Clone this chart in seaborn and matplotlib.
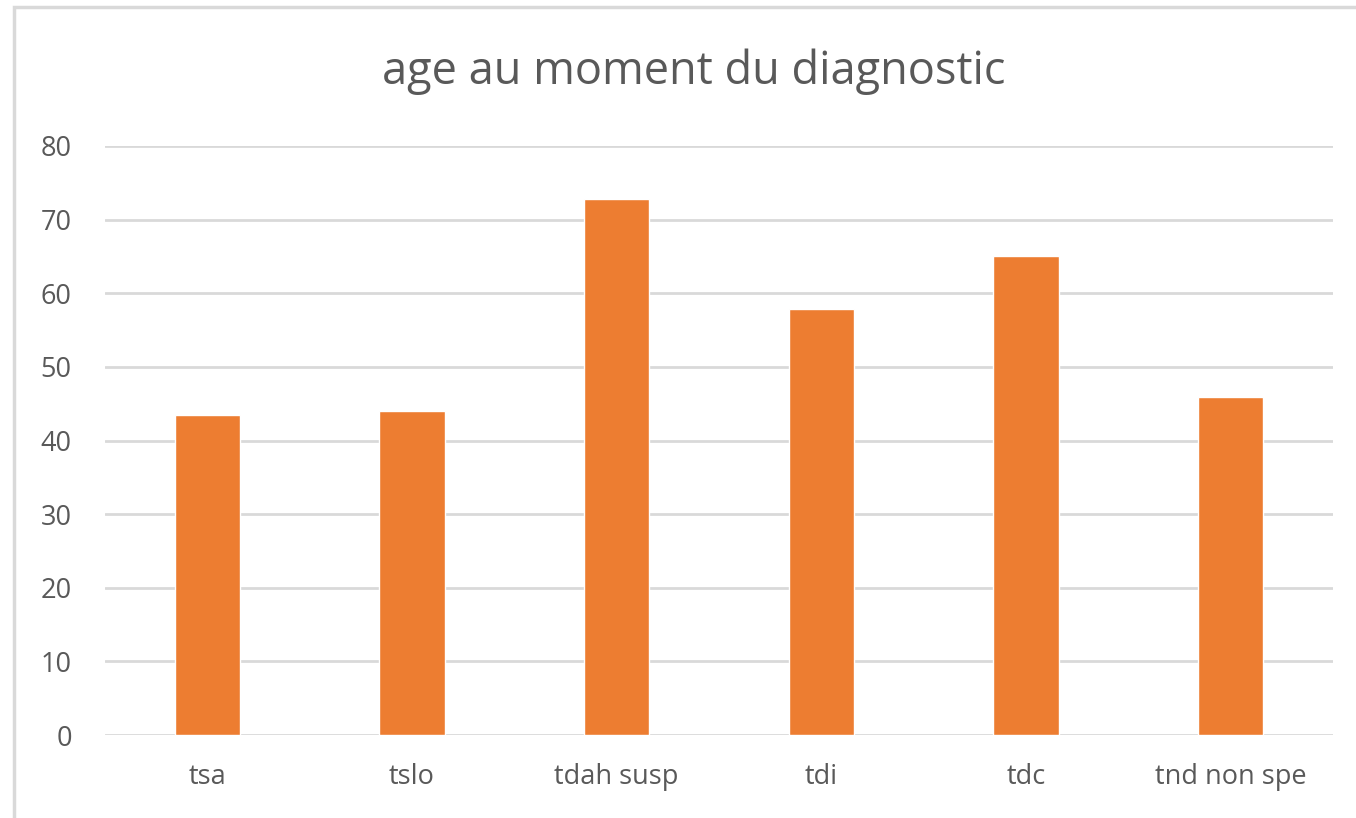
import pandas as pd
import seaborn as sns
import matplotlib.pyplot as plt
from matplotlib.patches import Rectangle

categories = ['tsa', 'tslo', 'tdah susp', 'tdi', 'tdc', 'tnd non spe']
ages = [43.5, 44.0, 72.8, 57.8, 65.0, 45.9]
y_ticks = [0, 10, 20, 30, 40, 50, 60, 70, 80]

df = pd.DataFrame({'categorie': categories, 'age': ages})

sns.set_style('white')
plt.rcParams['font.family'] = ['Open Sans', 'DejaVu Sans']
text_col = '#595959'
grid_col = '#D9D9D9'

fig = plt.figure(figsize=(13.56, 8.18), dpi=100)
ax = fig.add_axes([105 / 1356, 1 - 735 / 818, (1333 - 105) / 1356, (735 - 146) / 818])

sns.barplot(data=df, x='categorie', y='age', color='#ED7D31', width=0.32,
            saturation=1, ax=ax, zorder=3)

ax.set_ylim(0, 80)
ax.set_xlim(-0.5, len(categories) - 0.5)
ax.set_yticks(y_ticks)
ax.yaxis.grid(True, color=grid_col, linewidth=2, zorder=0)
ax.set_axisbelow(True)
for s in ax.spines.values():
    s.set_visible(False)
ax.tick_params(axis='both', length=0, labelsize=19.5, labelcolor=text_col)
ax.tick_params(axis='x', pad=20)
ax.tick_params(axis='y', pad=24)
ax.set_xlabel('')
ax.set_ylabel('')

fig.text(694 / 1356, 1 - 72 / 818, 'age au moment du diagnostic', ha='center', va='center',
         fontsize=32.5, color=text_col)

# chart frame
fig.patches.append(Rectangle((14 / 1356, -0.1), 1.2, 1 - 7 / 818 + 0.1,
                             transform=fig.transFigure, fill=False,
                             edgecolor=grid_col, linewidth=2.5))

fig.savefig('out.png', dpi=100)
